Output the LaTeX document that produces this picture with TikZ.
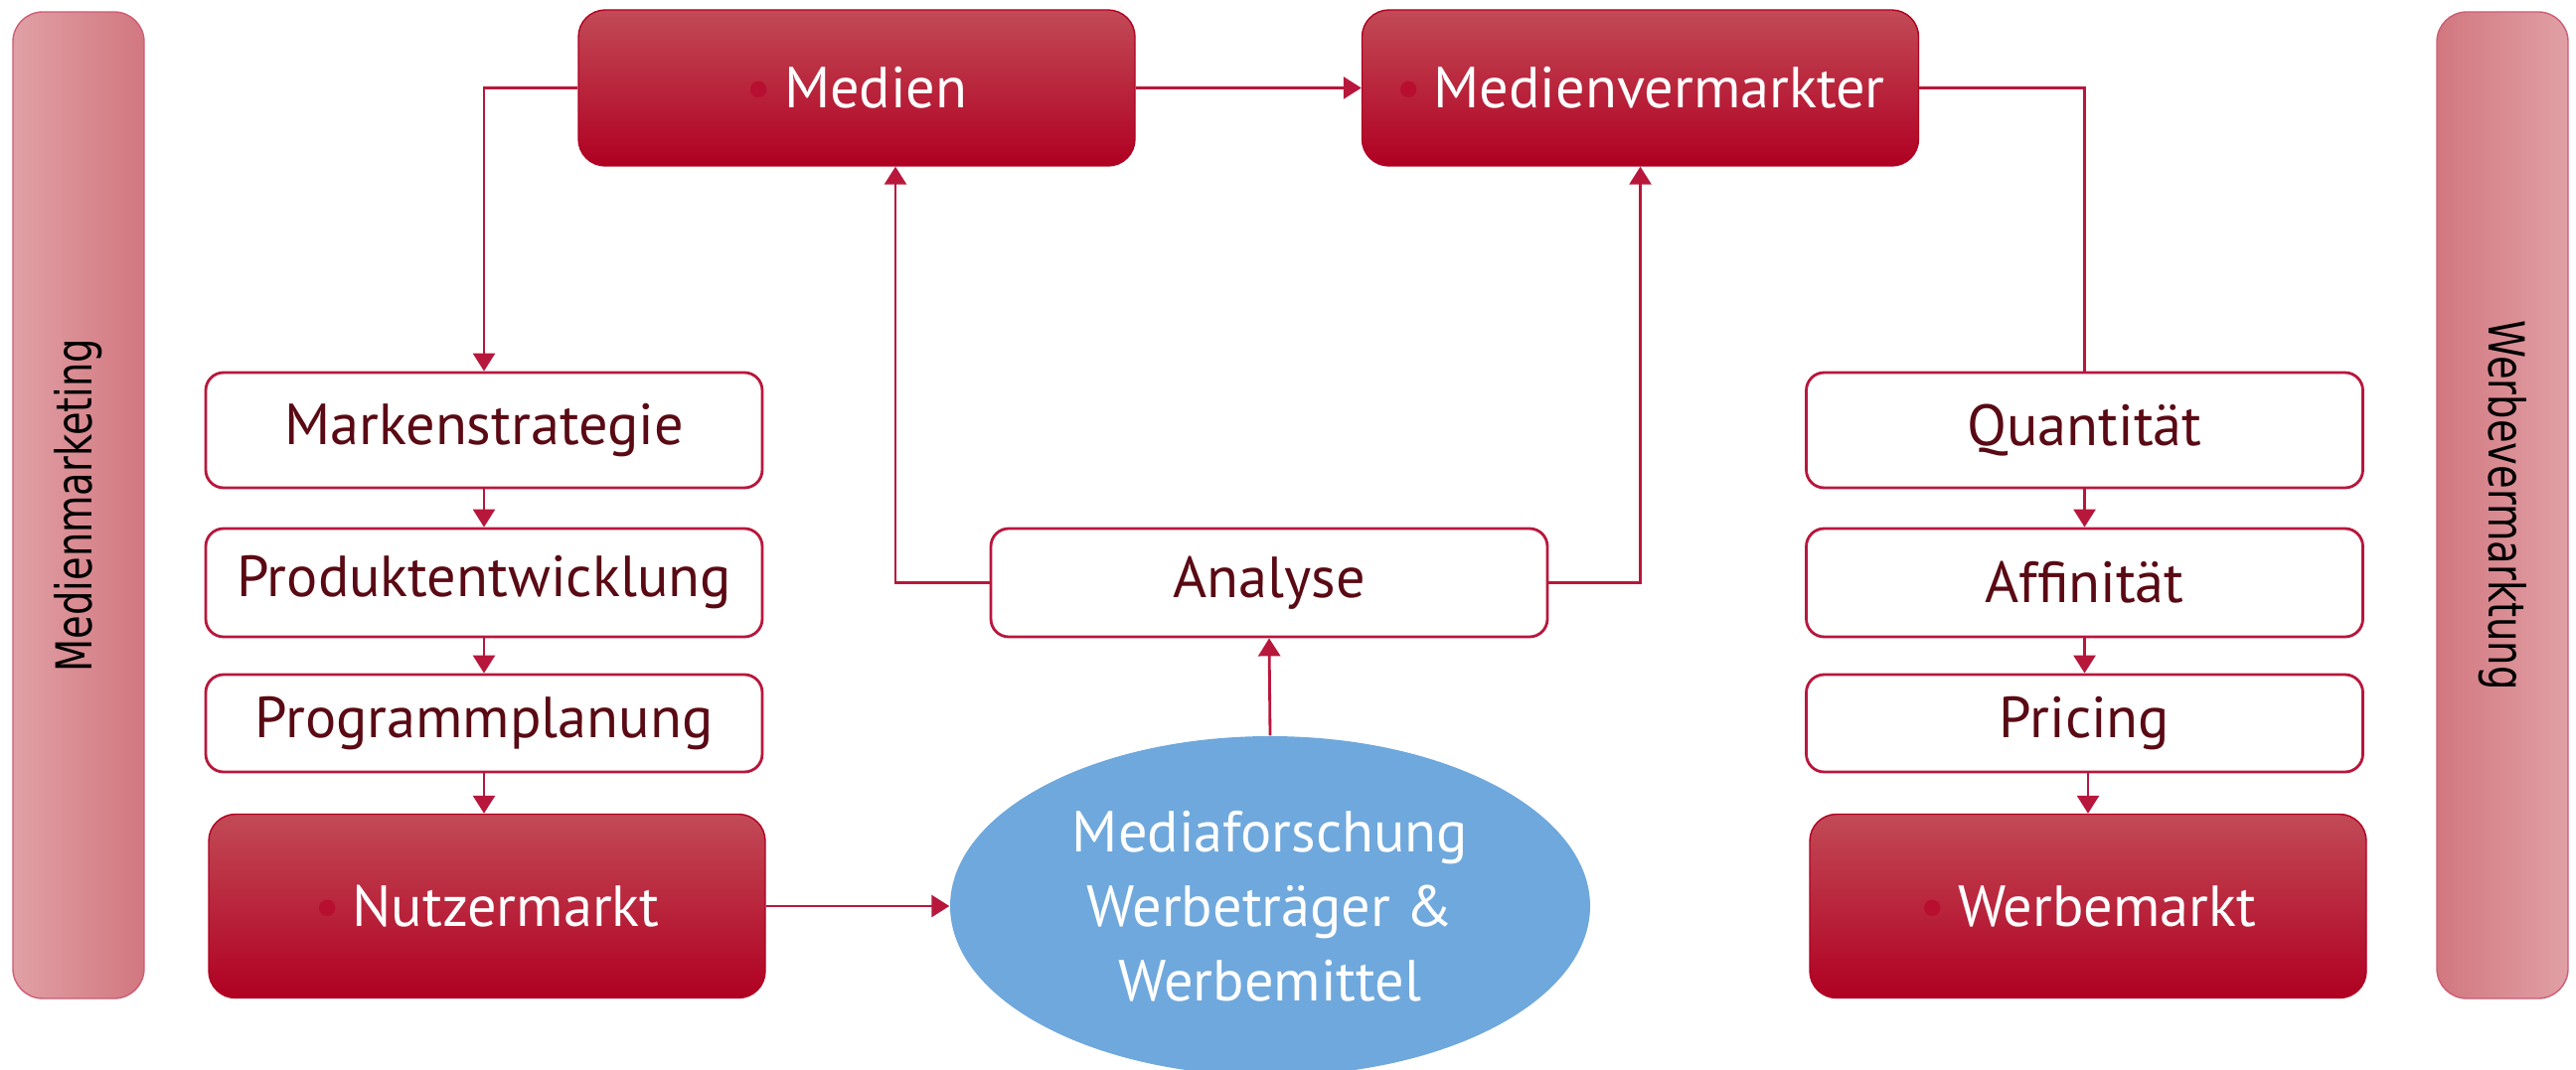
\documentclass[tikz,border=0pt]{standalone}
\usepackage{fontspec}
\setmainfont{PT Sans}
\newfontfamily\barfont[FakeStretch=0.77]{DejaVu Sans}
\usetikzlibrary{shapes.geometric,arrows.meta}

\definecolor{linered}{HTML}{B8173C}
\definecolor{redtop}{HTML}{C24A56}
\definecolor{redmid}{HTML}{BE0F30}
\definecolor{redbot}{HTML}{B00022}
\definecolor{dotred}{HTML}{B80E2F}
\definecolor{boxtext}{HTML}{5A0A14}
\definecolor{barlight}{HTML}{E0A0A5}
\definecolor{bardark}{HTML}{D2777F}
\definecolor{mediablue}{HTML}{6FA8DC}

\newcommand{\boxfont}{\fontsize{16.6}{21.3}\selectfont}
\newcommand{\dotted}[1]{\textcolor{dotred}{\textbullet}\hspace{0.12cm}#1}

\begin{document}
\begin{tikzpicture}[
    redbox/.style={rounded corners=0.27cm, top color=redtop, middle color=redmid, bottom color=redbot, draw=redbot, line width=0.4pt, minimum width=5.6cm, text=white, font=\boxfont},
    whitebox/.style={rounded corners=0.18cm, draw=linered, line width=0.8pt, fill=white, minimum width=5.6cm, text=boxtext, font=\boxfont},
    sidebar/.style={rounded corners=0.3cm, draw=linered!70, line width=0.4pt, minimum width=1.32cm, minimum height=9.93cm},
    link/.style={draw=linered, line width=0.8pt},
    arr/.style={link, -{Triangle[width=0.22cm,length=0.18cm]}}
  ]

  \useasboundingbox (0,0) rectangle (25.92,10.76);

  % side bars
  \node [sidebar, left color=barlight, right color=bardark] (leftbar) at (0.79,5.675) {};
  \node [sidebar, left color=bardark, right color=barlight] (rightbar) at (25.18,5.675) {};
  \node [rotate=90, font=\barfont\fontsize{14.2}{17}\selectfont] (lefttext) at (leftbar) {Medienmarketing};
  \node [rotate=-90, font=\barfont\fontsize{14.2}{17}\selectfont] (righttext) at (rightbar) {Werbevermarktung};

  % top row
  \node [redbox, minimum height=1.57cm] (medien) at (8.62,9.875) {\dotted{Medien}};
  \node [redbox, minimum height=1.57cm] (vermarkter) at (16.505,9.875) {\dotted{Medienvermarkter}};

  % left column
  \node [whitebox, minimum height=1.16cm] (marken) at (4.87,6.43) {Markenstrategie};
  \node [whitebox, minimum height=1.09cm] (produkt) at (4.87,4.895) {Produktentwicklung};
  \node [whitebox, minimum height=0.98cm] (programm) at (4.87,3.48) {Programmplanung};
  \node [redbox, minimum height=1.85cm] (nutzer) at (4.90,1.64) {\dotted{Nutzermarkt}};

  % middle
  \node [whitebox, minimum height=1.09cm] (analyse) at (12.77,4.895) {Analyse};
  \node [ellipse, fill=mediablue, minimum width=6.44cm, minimum height=3.42cm, inner sep=0pt, text=white, font=\boxfont, align=center] (forschung) at (12.78,1.64) {Mediaforschung\\Werbeträger \&\\Werbemittel};

  % right column
  \node [whitebox, minimum height=1.16cm] (quantitaet) at (20.975,6.43) {Quantität};
  \node [whitebox, minimum height=1.09cm] (affinitaet) at (20.975,4.895) {Affinität};
  \node [whitebox, minimum height=0.98cm] (pricing) at (20.975,3.48) {Pricing};
  \node [redbox, minimum height=1.85cm] (werbe) at (21.01,1.64) {\dotted{Werbemarkt}};

  % connectors
  \draw [arr] (medien.west) -| (marken.north);
  \draw [arr] (medien.east) -- (vermarkter.west);
  \draw [link] (vermarkter.east) -| (quantitaet.north);
  \draw [arr] (marken) -- (produkt);
  \draw [arr] (produkt) -- (programm);
  \draw [arr] (programm.south) -- (programm.south |- nutzer.north);
  \draw [arr] (quantitaet) -- (affinitaet);
  \draw [arr] (affinitaet) -- (pricing);
  \draw [arr] (pricing.south -| werbe.north) -- (werbe.north);
  \draw [arr] (nutzer.east) -- (forschung.west);
  \draw [arr] (forschung.north) -- (analyse.south);
  \draw [arr] (analyse.west) -| ([xshift=0.39cm]medien.south);
  \draw [arr] (analyse.east) -| (vermarkter.south);

\end{tikzpicture}
\end{document}
